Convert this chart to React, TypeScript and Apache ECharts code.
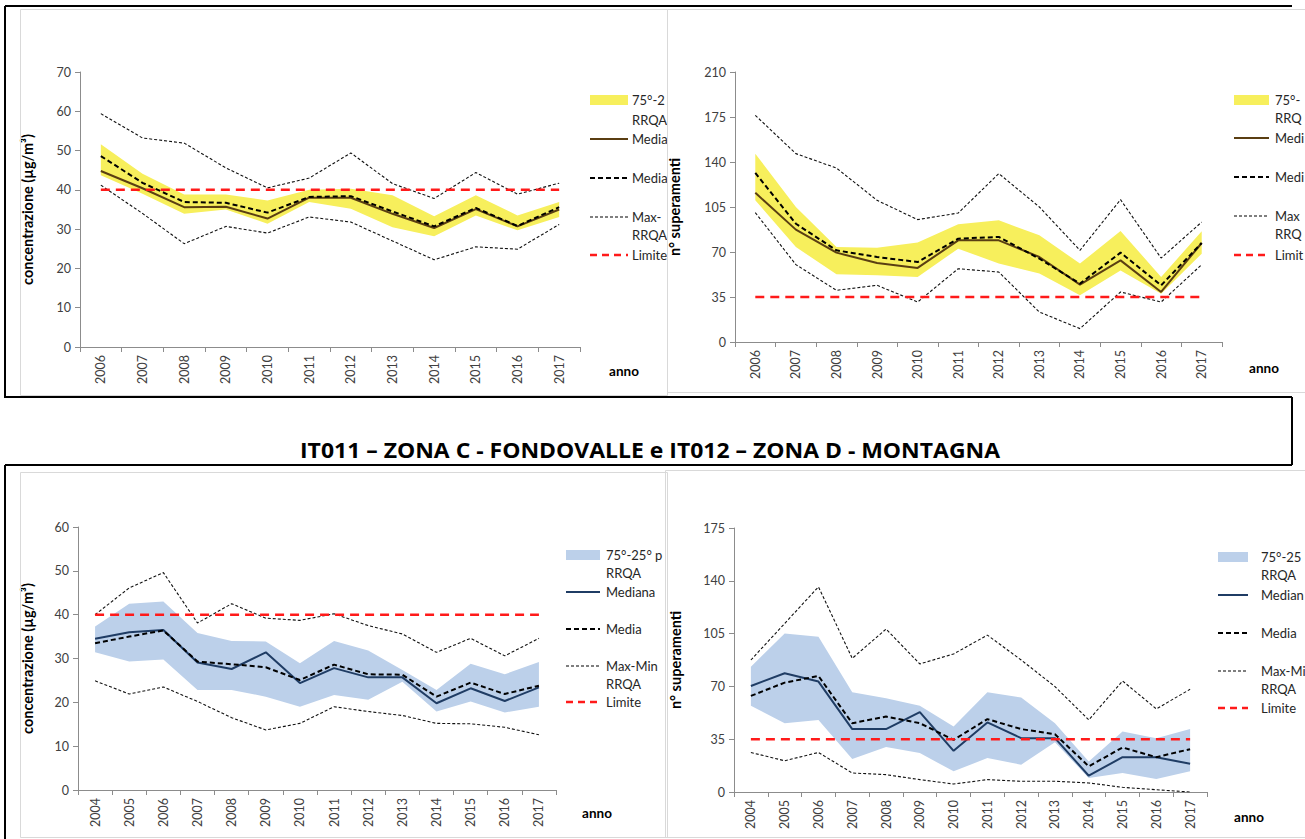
import React, { useEffect, useRef } from 'react';
import * as echarts from 'echarts';

// ---------- data ----------
const yearsA = ['2006', '2007', '2008', '2009', '2010', '2011', '2012', '2013', '2014', '2015', '2016', '2017'];
const yearsB = ['2004', '2005', '2006', '2007', '2008', '2009', '2010', '2011', '2012', '2013', '2014', '2015', '2016', '2017'];

// Panel 1 – concentrazione (top left)
const p1P75 = [51.6, 44.1, 38.8, 38.8, 37.3, 40.0, 40.3, 38.6, 33.3, 38.6, 33.5, 36.9];
const p1P25 = [43.7, 39.0, 33.9, 35.0, 31.4, 36.9, 35.2, 30.5, 28.2, 33.5, 29.7, 33.1];
const p1Median = [44.8, 40.4, 35.6, 35.7, 32.7, 38.0, 38.0, 33.9, 30.3, 35.1, 30.7, 35.0];
const p1Mean = [48.6, 41.8, 36.9, 36.7, 34.2, 38.2, 38.4, 34.5, 30.7, 35.4, 30.8, 35.6];
const p1Max = [59.4, 53.2, 51.9, 45.6, 40.5, 43.0, 49.4, 41.6, 37.8, 44.4, 38.9, 41.7];
const p1Min = [41.2, 34.0, 26.3, 30.7, 29.0, 33.1, 31.8, 27.0, 22.2, 25.5, 24.9, 31.2];
const p1Limit = [40, 40, 40, 40, 40, 40, 40, 40, 40, 40, 40, 40];

// Panel 2 – superamenti (top right)
const p2P75 = [146.5, 105, 73.9, 73.4, 77.3, 91.5, 94.6, 83, 61, 86.3, 50.6, 86.1];
const p2P25 = [110.2, 73.9, 52.6, 51.9, 50.6, 72.6, 61, 53.2, 36.3, 55.7, 37.6, 68.7];
const p2Median = [116, 87.4, 69.5, 61.5, 57.6, 79.1, 79.1, 66.1, 44.6, 63.5, 38.9, 77.0];
const p2Mean = [131.5, 92, 71.3, 66.1, 62.2, 80.4, 81.7, 64.8, 45.4, 69.5, 44.1, 77.0];
const p2Max = [176.3, 146.5, 135.3, 110.2, 95.2, 100.3, 131, 105, 71.3, 110.7, 65.3, 93.3];
const p2Min = [100.6, 60.2, 40.2, 44.1, 31.1, 57, 54.4, 23.3, 10.4, 38.9, 31.1, 60.2];
const p2Limit = [35, 35, 35, 35, 35, 35, 35, 35, 35, 35, 35, 35];

// Panel 3 – concentrazione (bottom left)
const p3P75 = [37.3, 42.5, 43.0, 35.8, 34.0, 33.9, 28.9, 34.0, 31.8, 27.4, 22.8, 28.8, 26.4, 29.2];
const p3P25 = [31.4, 29.3, 29.8, 22.8, 22.8, 21.3, 19.0, 21.7, 20.6, 24.7, 17.9, 20.2, 17.7, 19.0];
const p3Median = [34.5, 36.0, 36.5, 29.1, 27.6, 31.4, 24.4, 27.8, 25.7, 25.7, 19.8, 23.2, 20.3, 23.4];
const p3Mean = [33.5, 35.0, 36.4, 29.3, 28.7, 28.0, 25.1, 28.6, 26.4, 26.3, 21.3, 24.5, 21.9, 23.8];
const p3Max = [40.0, 46.1, 49.6, 38.1, 42.5, 39.2, 38.7, 40.2, 37.5, 35.6, 31.4, 34.6, 30.6, 34.6];
const p3Min = [24.9, 21.9, 23.5, 20.2, 16.5, 13.7, 15.2, 19.0, 17.9, 17.0, 15.2, 15.1, 14.3, 12.6];
const p3Limit = [40, 40, 40, 40, 40, 40, 40, 40, 40, 40, 40, 40, 40, 40];

// Panel 4 – superamenti (bottom right)
const p4P75 = [83.1, 105.1, 102.9, 66.1, 62.2, 57.1, 43.4, 66.1, 62.6, 45.6, 20.3, 40.1, 35.7, 41.7];
const p4P25 = [57.1, 45.6, 47.8, 21.8, 29.8, 25.8, 13.7, 22.5, 18.1, 33.0, 9.3, 12.6, 8.6, 13.7];
const p4Median = [70.3, 78.7, 73.2, 41.7, 41.7, 52.9, 27.3, 46.1, 35.7, 35.7, 10.8, 23.1, 23.1, 18.7];
const p4Mean = [63.7, 72.5, 76.9, 45.6, 50.0, 45.6, 34.6, 48.3, 41.7, 38.3, 17.0, 29.5, 23.1, 28.4];
const p4Max = [87.5, 111.7, 136, 88.6, 108, 84.9, 91.5, 104, 87.5, 69.9, 47.8, 73.6, 55.1, 68.1];
const p4Min = [26.2, 20.7, 26.2, 12.6, 11.5, 8.2, 5.3, 8.2, 7.1, 7.1, 6.0, 3.1, 1.5, 0];
const p4Limit = [35, 35, 35, 35, 35, 35, 35, 35, 35, 35, 35, 35, 35, 35];

const titleText = 'IT011 – ZONA C - FONDOVALLE e IT012 – ZONA D - MONTAGNA';
const yNameConc = 'concentrazione (µg/m³)';
const yNameExc = 'n° superamenti';
const legendLabels = ['75°-25° percentile', 'RRQA', 'Mediana', 'Media', 'Max-Min', 'RRQA', 'Limite'];

// ---------- styles ----------
const FONT = 'Lato, "Noto Sans", sans-serif';
const TITLE_FONT = '"Open Sans", Lato, sans-serif';
const YELLOW = '#F7EF5C';
const BLUE = '#BCD0EA';
const BROWN = '#5A3E12';
const NAVY = '#1F3C64';
const RED = '#FF1A1A';
const AXIS = '#8C8C8C';

type Panel = {
  cats: string[];
  p75: number[];
  p25: number[];
  median: number[];
  mean: number[];
  max: number[];
  min: number[];
  limit: number[];
  yMax: number;
  interval: number;
  grid: { left: number; top: number; width: number; height: number };
  yName: string;
  nameGap: number;
  band: string;
  medColor: string;
  anno: [number, number];
  legend: { px: number; pw: number; tx: number; clip: number; ys: number[] };
};

const panels: Panel[] = [
  {
    cats: yearsA, p75: p1P75, p25: p1P25, median: p1Median, mean: p1Mean, max: p1Max, min: p1Min, limit: p1Limit,
    yMax: 70, interval: 10,
    grid: { left: 80, top: 72, width: 500, height: 275 },
    yName: yNameConc, nameGap: 45, band: YELLOW, medColor: BROWN, anno: [624, 371],
    legend: { px: 590, pw: 38, tx: 632, clip: 672, ys: [100, 120, 139, 178, 217, 235, 255] },
  },
  {
    cats: yearsA, p75: p2P75, p25: p2P25, median: p2Median, mean: p2Mean, max: p2Max, min: p2Min, limit: p2Limit,
    yMax: 210, interval: 35,
    grid: { left: 735, top: 72, width: 487, height: 270 },
    yName: yNameExc, nameGap: 53, band: YELLOW, medColor: BROWN, anno: [1264, 368],
    legend: { px: 1234, pw: 35, tx: 1275, clip: 1308, ys: [100, 118, 138, 177, 216, 234, 255] },
  },
  {
    cats: yearsB, p75: p3P75, p25: p3P25, median: p3Median, mean: p3Mean, max: p3Max, min: p3Min, limit: p3Limit,
    yMax: 60, interval: 10,
    grid: { left: 78, top: 527, width: 478, height: 263 },
    yName: yNameConc, nameGap: 43, band: BLUE, medColor: NAVY, anno: [597, 813],
    legend: { px: 566, pw: 34, tx: 606, clip: 672, ys: [555, 573, 592, 629, 666, 684, 702] },
  },
  {
    cats: yearsB, p75: p4P75, p25: p4P25, median: p4Median, mean: p4Mean, max: p4Max, min: p4Min, limit: p4Limit,
    yMax: 175, interval: 35,
    grid: { left: 734, top: 528, width: 473, height: 264 },
    yName: yNameExc, nameGap: 51, band: BLUE, medColor: NAVY, anno: [1249, 817],
    legend: { px: 1218, pw: 30, tx: 1261, clip: 1308, ys: [557, 575, 595, 633, 671, 689, 708] },
  },
];

function buildOption() {
  const grid: any[] = [];
  const xAxis: any[] = [];
  const yAxis: any[] = [];
  const series: any[] = [];
  const graphic: any[] = [];

  panels.forEach((p, i) => {
    grid.push({ ...p.grid, containLabel: false });
    xAxis.push({
      type: 'category',
      gridIndex: i,
      data: p.cats,
      boundaryGap: true,
      axisLine: { lineStyle: { color: AXIS, width: 1 } },
      axisTick: { show: true, length: 5, lineStyle: { color: AXIS } },
      axisLabel: { rotate: 90, fontFamily: FONT, fontSize: 12.5, color: '#404040', margin: 8 },
      splitLine: { show: false },
    });
    yAxis.push({
      type: 'value',
      gridIndex: i,
      min: 0,
      max: p.yMax,
      interval: p.interval,
      name: p.yName,
      nameLocation: 'middle',
      nameRotate: 90,
      nameGap: p.nameGap,
      nameTextStyle: { fontFamily: FONT, fontSize: 14.5, fontWeight: 'bold', color: '#000' },
      axisLine: { show: true, lineStyle: { color: AXIS, width: 1 } },
      axisTick: { show: true, length: 5, lineStyle: { color: AXIS } },
      axisLabel: { fontFamily: FONT, fontSize: 12.5, color: '#404040', margin: 9 },
      splitLine: { show: false },
    });

    const common = { xAxisIndex: i, yAxisIndex: i, symbol: 'none', silent: true, smooth: false };
    const diff = p.p75.map((v, k) => +(v - p.p25[k]).toFixed(2));
    series.push({ ...common, type: 'line', name: 'p25_' + i, stack: 'band' + i, data: p.p25, lineStyle: { opacity: 0, width: 0 } });
    series.push({
      ...common, type: 'line', name: 'band_' + i, stack: 'band' + i, data: diff,
      lineStyle: { opacity: 0, width: 0 }, areaStyle: { color: p.band, opacity: 1 },
    });
    series.push({ ...common, type: 'line', name: 'max_' + i, data: p.max, lineStyle: { color: '#111', width: 1.1, type: [3, 2] } });
    series.push({ ...common, type: 'line', name: 'min_' + i, data: p.min, lineStyle: { color: '#111', width: 1.1, type: [3, 2] } });
    series.push({ ...common, type: 'line', name: 'median_' + i, data: p.median, lineStyle: { color: p.medColor, width: 2 } });
    series.push({ ...common, type: 'line', name: 'mean_' + i, data: p.mean, lineStyle: { color: '#000', width: 2, type: [5, 3] } });
    series.push({ ...common, type: 'line', name: 'limit_' + i, data: p.limit, lineStyle: { color: RED, width: 2.5, type: [9, 6] } });

    // "anno"
    graphic.push({
      type: 'text', x: p.anno[0], y: p.anno[1],
      style: { text: 'anno', fontFamily: FONT, fontSize: 13.5, fontWeight: 'bold', fill: '#000', align: 'center', verticalAlign: 'middle' },
    });

    // legend
    const L = p.legend;
    const tw = L.clip - L.tx;
    const ys = L.ys;
    graphic.push({ type: 'rect', shape: { x: L.px, y: ys[0] - 5, width: L.pw, height: 10 }, style: { fill: p.band } });
    graphic.push({ type: 'line', shape: { x1: L.px, y1: ys[2], x2: L.px + L.pw, y2: ys[2] }, style: { stroke: p.medColor, lineWidth: 2 } });
    graphic.push({ type: 'line', shape: { x1: L.px, y1: ys[3], x2: L.px + L.pw, y2: ys[3] }, style: { stroke: '#000', lineWidth: 2, lineDash: [5, 3] } });
    graphic.push({ type: 'line', shape: { x1: L.px, y1: ys[4], x2: L.px + L.pw, y2: ys[4] }, style: { stroke: '#000', lineWidth: 1.1, lineDash: [3, 2] } });
    graphic.push({ type: 'line', shape: { x1: L.px, y1: ys[6], x2: L.px + L.pw, y2: ys[6] }, style: { stroke: RED, lineWidth: 2.5, lineDash: [7, 5] } });
    legendLabels.forEach((t, k) => {
      graphic.push({
        type: 'text', x: L.tx, y: ys[k],
        style: {
          text: t, fontFamily: FONT, fontSize: 13, fill: '#262626', verticalAlign: 'middle', align: 'left',
          width: tw, overflow: 'truncate', ellipsis: '',
        },
      });
    });
  });

  // chart image frames (light grey)
  const frame = (x: number, y: number, w: number, h: number, z: number) => ({
    type: 'rect', shape: { x, y, width: w, height: h }, style: { fill: 'none', stroke: '#D9D9D9', lineWidth: 1 }, z,
  });
  graphic.push(frame(20.5, 9.5, 647, 386, 1));
  graphic.push(frame(667.5, 9.5, 660, 383, 1));
  graphic.push(frame(20.5, 472.5, 647, 365, 1));
  graphic.push(frame(665.5, 470.5, 660, 367, 1));

  // black document borders
  const bl = (x1: number, y1: number, x2: number, y2: number) => ({
    type: 'line', shape: { x1, y1, x2, y2 }, style: { stroke: '#000', lineWidth: 2 }, z: 10,
  });
  graphic.push(bl(5, 6, 1292, 6));
  graphic.push(bl(5, 6, 5, 398));
  graphic.push(bl(5, 397, 1292, 397));
  graphic.push(bl(1292, 397, 1292, 465));
  graphic.push(bl(5, 465, 1292, 465));
  graphic.push(bl(5, 465, 5, 839));

  // title
  graphic.push({
    type: 'text', x: 650, y: 450, scaleX: 1.12,
    style: { text: titleText, fontFamily: TITLE_FONT, fontSize: 20.5, fontWeight: 'bold', fill: '#000', align: 'center', verticalAlign: 'middle' },
  });

  return {
    animation: false,
    backgroundColor: '#fff',
    grid, xAxis, yAxis, series, graphic,
  };
}

export default function App() {
  const ref = useRef<HTMLDivElement>(null);
  useEffect(() => {
    if (!ref.current) return;
    const chart = echarts.init(ref.current, undefined, { renderer: 'svg' });
    chart.setOption(buildOption() as any);
    return () => chart.dispose();
  }, []);
  return (
    <div
      ref={ref}
      style={{ position: 'absolute', left: 0, top: 0, width: 1305, height: 839, background: '#fff' }}
    />
  );
}
